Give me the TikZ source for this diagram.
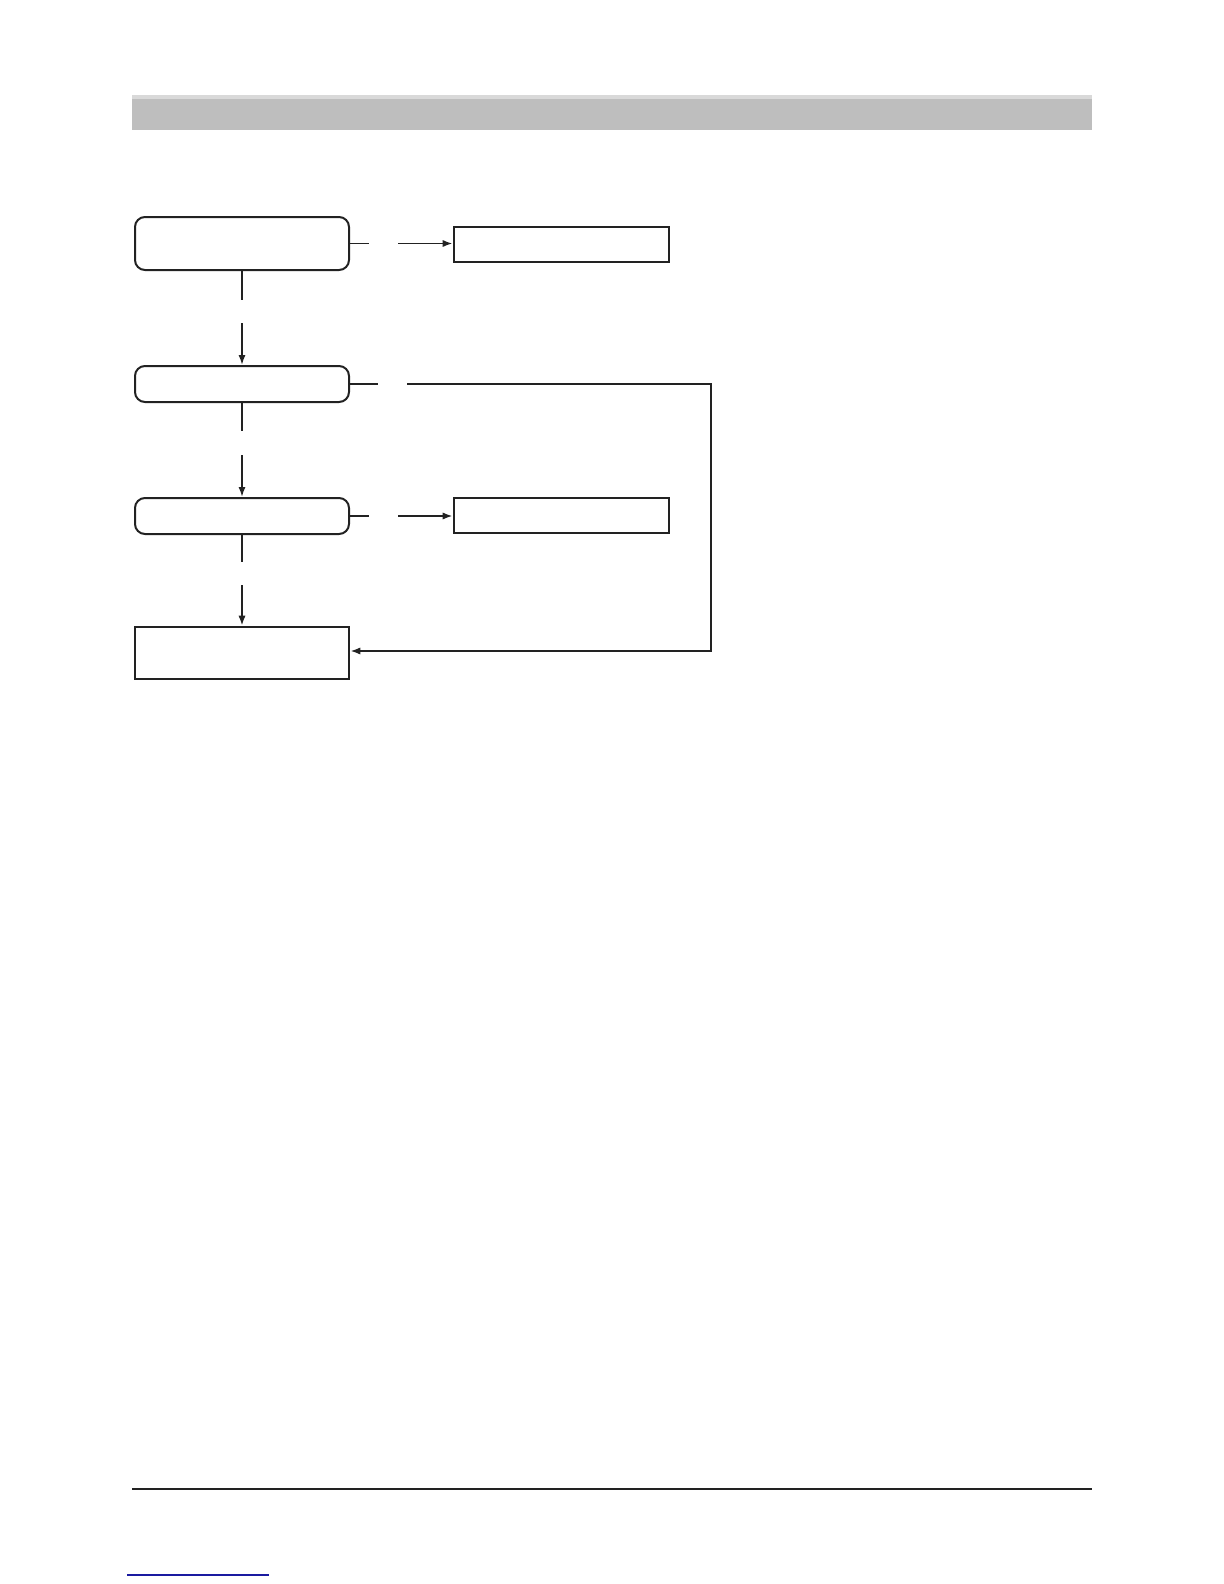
\documentclass[tikz,border=0pt]{standalone}
\usetikzlibrary{arrows.meta}
\definecolor{barGray}{HTML}{BEBEBE}
\definecolor{barLight}{HTML}{D9D9D9}
\definecolor{lineCol}{HTML}{222222}
\definecolor{linkBlue}{HTML}{1A1AA0}
\tikzset{
  roundbox/.style={draw=lineCol, line width=1pt, rounded corners=5pt, minimum width=107pt, inner sep=0pt},
  sharpbox/.style={draw=lineCol, line width=1.3pt, inner sep=0pt},
  conn/.style={draw=lineCol, line width=0.9pt},
  arrowconn/.style={conn, -{Latex[length=5pt,width=3.6pt]}},
}
\begin{document}
\begin{tikzpicture}[x=0.5pt,y=-0.5pt]
\useasboundingbox (0,0) rectangle (1224,1584);
% header bar
\fill[barGray] (132,95) rectangle (1092,130);
\fill[barLight] (132,95) rectangle (1092,99);
% nodes
\node[roundbox, minimum height=26.5pt] (A) at (242,243.5) {};
\node[roundbox, minimum height=18pt] (B) at (242,384) {};
\node[roundbox, minimum height=18pt] (C) at (242,516) {};
\node[sharpbox, minimum width=107pt, minimum height=26pt] (D) at (242,653) {};
\node[sharpbox, minimum width=107.5pt, minimum height=17.5pt] (R1) at (561.5,244.5) {};
\node[sharpbox, minimum width=107.5pt, minimum height=17.5pt] (R2) at (561.5,515.5) {};
% gap coordinates
\coordinate (a1) at (242,300); \coordinate (a2) at (242,323);
\coordinate (b1) at (242,431); \coordinate (b2) at (242,455);
\coordinate (c1) at (242,562); \coordinate (c2) at (242,585);
\coordinate (ah1) at (369,243.5); \coordinate (ah2) at (398,243.5);
\coordinate (bh1) at (378,384); \coordinate (bh2) at (407,384);
\coordinate (ch1) at (369,516); \coordinate (ch2) at (398,516);
\coordinate (bt) at (711,384); \coordinate (bb) at (711,651);
% vertical connectors
\draw[conn] (A.south) -- (a1);
\draw[arrowconn] (a2) -- (B.north);
\draw[conn] (B.south) -- (b1);
\draw[arrowconn] (b2) -- (C.north);
\draw[conn] (C.south) -- (c1);
\draw[arrowconn] (c2) -- (D.north);
% horizontal connectors
\draw[conn] (A.east) -- (ah1);
\draw[arrowconn] (ah2) -- (ah2 -| R1.west);
\draw[conn] (C.east) -- (ch1);
\draw[arrowconn] (ch2) -- (ch2 -| R2.west);
\draw[conn] (B.east) -- (bh1);
\draw[arrowconn, line join=miter] (bh2) -- (bt) -- (bb) -- (D.east |- bb);
% footer rule and link line
\draw[lineCol, line width=1.3pt] (132,1489) -- (1092,1489);
\draw[linkBlue, line width=0.7pt] (127,1575) -- (269,1575);
\end{tikzpicture}
\end{document}
